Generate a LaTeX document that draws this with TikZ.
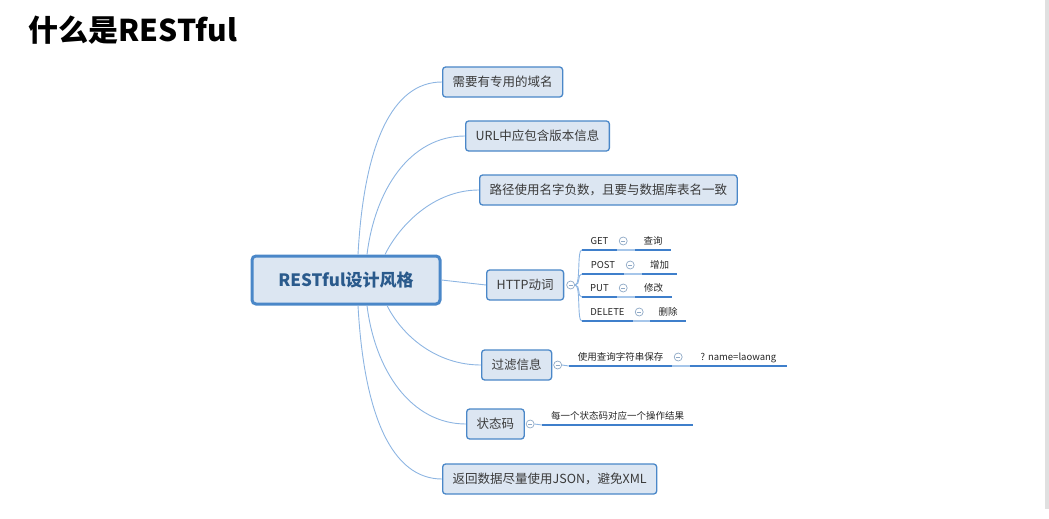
\documentclass[tikz,border=0pt]{standalone}
\usepackage{fontspec}
\setmainfont{Noto Sans CJK SC}
\usetikzlibrary{positioning,calc}
\definecolor{topicfill}{HTML}{DCE6F2}
\definecolor{topicline}{HTML}{4A87C8}
\definecolor{branchline}{HTML}{8DB5E2}
\definecolor{subline}{HTML}{3F7FCB}
\definecolor{linkline}{HTML}{A6C6EA}
\definecolor{foldline}{HTML}{8FA9C6}
\definecolor{roottext}{HTML}{2A5A8C}
\definecolor{topictext}{HTML}{3A3A3A}

\begin{document}
\begin{tikzpicture}[x=1pt,y=-1pt,
    topic/.style={draw=topicline,fill=topicfill,line width=1.3pt,rounded corners=3pt,
      text=topictext,font=\fontsize{12.5}{14}\selectfont,minimum height=30pt,inner xsep=10pt,anchor=west},
    root/.style={draw=topicline,fill=topicfill,line width=3pt,rounded corners=4pt,text=roottext,
      font=\fontsize{17}{20}\selectfont\bfseries,minimum width=188pt,minimum height=48pt},
    branch/.style={draw=branchline,line width=0.9pt},
    sub/.style={anchor=south,inner xsep=0pt,inner ysep=3pt,text height=7pt,text depth=2pt,
      minimum width=#1,font=\fontsize{9.5}{11}\selectfont,text=black!85,
      append after command={(\tikzlastnode.south west) edge[draw=subline,line width=2pt] (\tikzlastnode.south east)}},
    link/.style={draw=linkline,line width=1.2pt},
    fold/.style={circle,draw=foldline,fill=white,line width=0.7pt,minimum size=8pt,inner sep=0pt,
      path picture={\draw[foldline,line width=0.7pt] ($(path picture bounding box.west)+(2,0)$) -- ($(path picture bounding box.east)+(-2,0)$);}}]
  \useasboundingbox (0,0) rectangle (1049,519);
  \fill[black!12] (1045,0) rectangle (1049,509);

  \node[anchor=west,font=\fontsize{30}{34}\selectfont\bfseries] (title) at (25,30) {什么是RESTful};

  \node[root] (rest) at (346,280) {RESTful设计风格};
  \node[topic] (domain) at (442,82) {需要有专用的域名};
  \node[topic] (version) at (465,136) {URL中应包含版本信息};
  \node[topic] (path) at (479,190) {路径使用名字负数，且要与数据库表名一致};
  \node[topic] (verb) at (486,285) {HTTP动词};
  \node[topic] (filter) at (481,365) {过滤信息};
  \node[topic] (status) at (466,424) {状态码};
  \node[topic] (format) at (442,479) {返回数据尽量使用JSON，避免XML};

  \draw[branch] ([xshift=12]rest.north) .. controls +(6,-110) and +(-50,0) .. (domain.west);
  \draw[branch] ([xshift=21]rest.north) .. controls +(8,-65) and +(-55,0) .. (version.west);
  \draw[branch] ([xshift=39]rest.north) .. controls +(15,-30) and +(-45,0) .. (path.west);
  \draw[branch] (rest.east) -- (verb.west);
  \draw[branch] ([xshift=41]rest.south) .. controls +(15,30) and +(-45,0) .. (filter.west);
  \draw[branch] ([xshift=21]rest.south) .. controls +(8,65) and +(-55,0) .. (status.west);
  \draw[branch] ([xshift=12]rest.south) .. controls +(6,110) and +(-50,0) .. (format.west);

  \node[fold,right=2pt of verb] (fverb) {};
  \node[fold,right=1pt of filter] (ffilter) {};
  \node[fold,right=1pt of status] (fstatus) {};

  \node[sub=35] (get) at (599.5,250) {GET};
  \node[sub=36] (query) at (653,250) {查询};
  \node[sub=42] (post) at (603,274) {POST};
  \node[sub=35] (add) at (659.5,274) {增加};
  \node[sub=35] (put) at (599.5,297) {PUT};
  \node[sub=37] (modify) at (653.5,297) {修改};
  \node[sub=51] (delete) at (607.5,321) {DELETE};
  \node[sub=36] (remove) at (668,321) {删除};
  \node[sub=103] (qstr) at (620.5,366) {使用查询字符串保存};
  \node[sub=97] (qexample) at (738.5,366) {? name=laowang};
  \node[sub=151] (code) at (617.5,425) {每一个状态码对应一个操作结果};

  \foreach \s in {get,post,put,delete}
    \draw[branch] (fverb.east) .. controls +(6,0) and +(-5,0) .. (\s.south west);
  \draw[branch] (ffilter.east) -- (qstr.south west);
  \draw[branch] (fstatus.east) -- (code.south west);

  \foreach \a/\b in {get/query,post/add,put/modify,delete/remove,qstr/qexample}{
    \draw[link] (\a.south east) -- (\b.south west);
    \node[fold] (f\a) at ($(\a.south east)+(6,-9)$) {};
  }
\end{tikzpicture}
\end{document}
